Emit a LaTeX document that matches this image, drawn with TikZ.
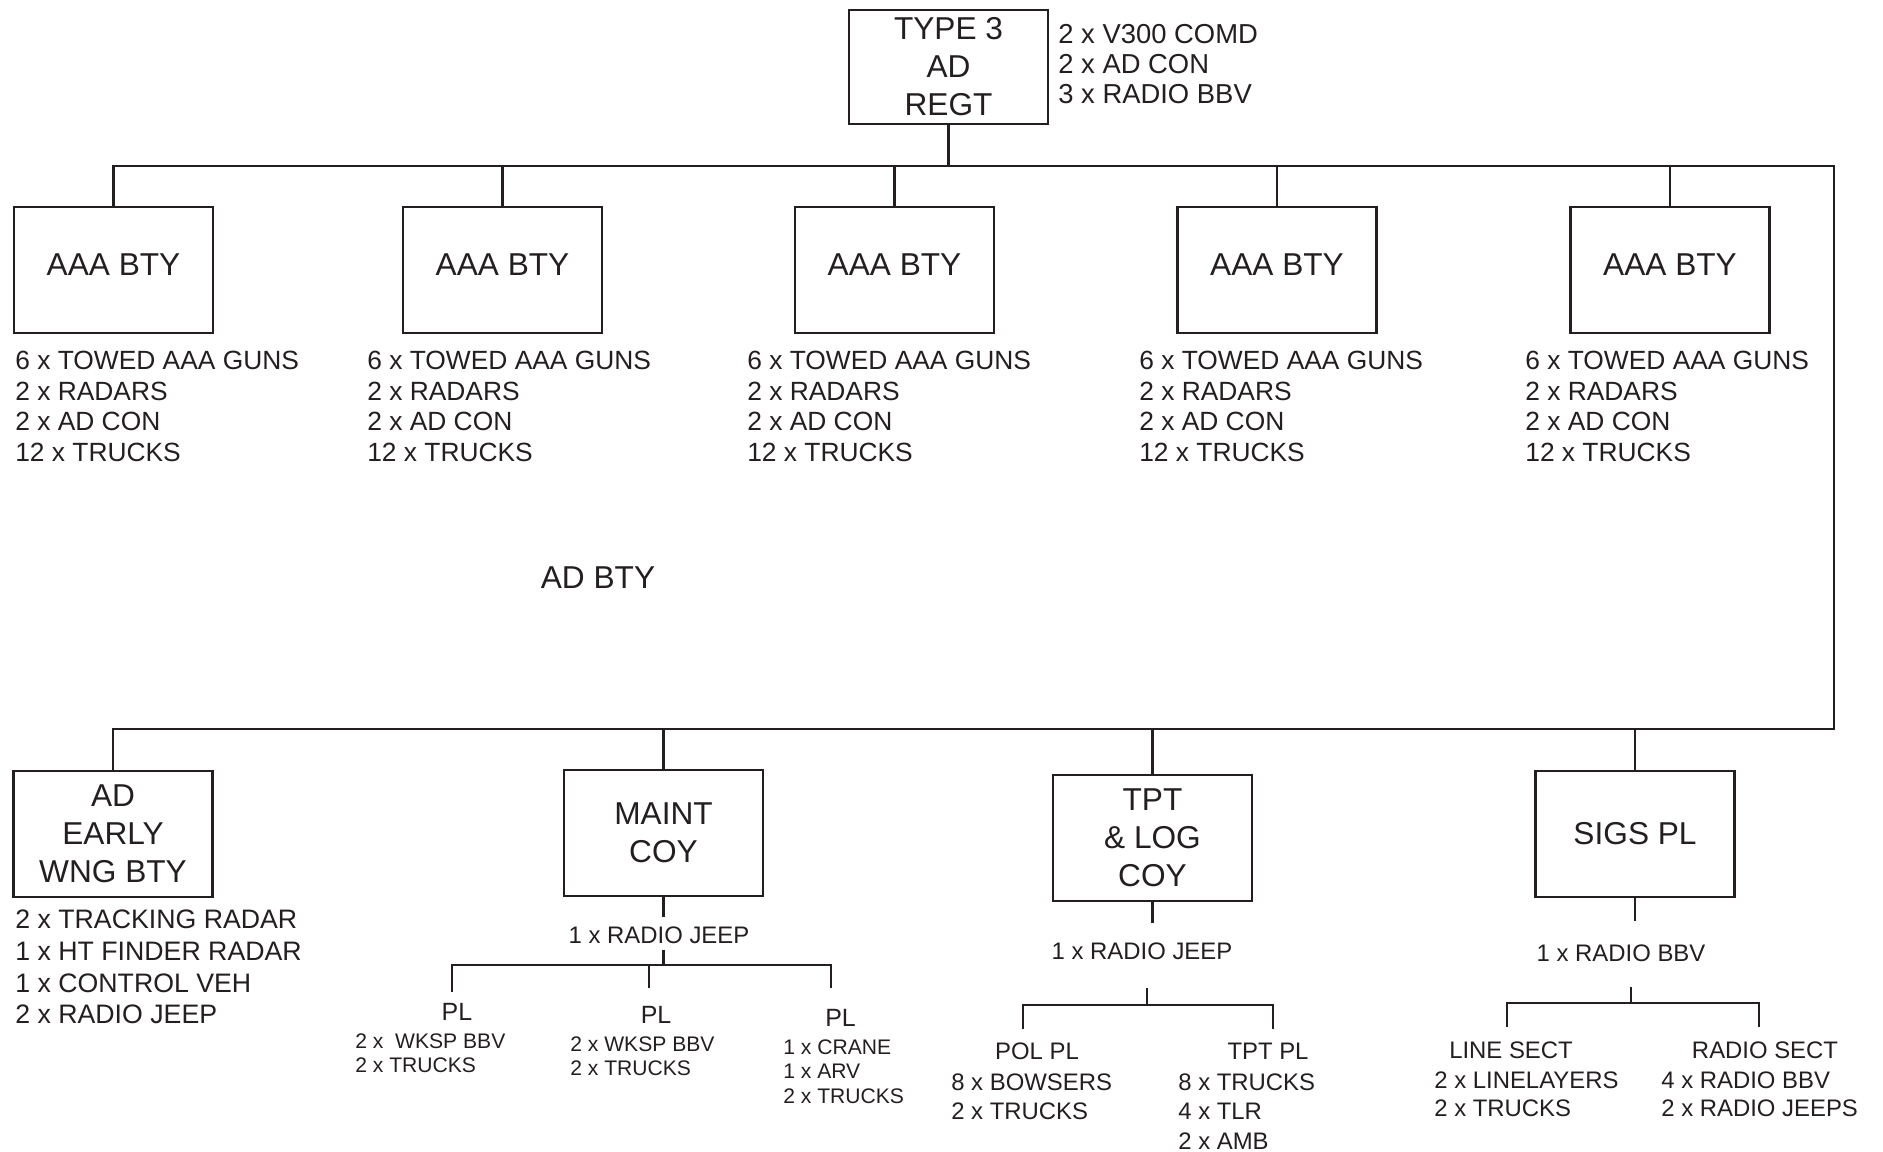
\documentclass[tikz,border=0pt]{standalone}
\usepackage{fontspec}
\setmainfont{Liberation Sans}
\definecolor{ink}{HTML}{231F20}

\begin{document}
\begin{tikzpicture}[color=ink, line width=0.75pt,
  unit/.style={draw, minimum width=1.99cm, minimum height=1.26cm,
    inner sep=0pt, align=center, font=\fontsize{9}{10.8}\selectfont},
  kit/.style={anchor=north west, inner sep=0pt, align=left,
    font=\fontsize{7.5}{8.7}\selectfont},
  small/.style={inner sep=0pt, align=left, font=\fontsize{6.8}{8.4}\selectfont},
  tiny/.style={anchor=north west, inner sep=0pt, align=left,
    font=\fontsize{6}{7}\selectfont}]

\useasboundingbox (0,0) rectangle (18.83,-11.51);

% Regiment HQ
\node[unit, minimum height=1.14cm] (regt) at (9.485,-0.67) {TYPE 3\\AD\\REGT};
\node[kit, font=\fontsize{7.8}{8.6}\selectfont] (regtkit) at (10.57,-0.23)
  {2 x V300 COMD\\2 x AD CON\\3 x RADIO BBV};

% bus corners
\coordinate (tr) at (18.34,-1.66);
\coordinate (br) at (18.34,-7.29);

% AAA batteries
\foreach \i/\x/\t in {1/1.135/0.14, 2/5.025/3.66, 3/8.945/7.46,
                      4/12.77/11.38, 5/16.70/15.24} {
  \node[unit, text depth=1mm] (aaa\i) at (\x,-2.70) {AAA BTY};
  \node[kit] (aaakit\i) at (\t,-3.50)
    {6 x TOWED AAA GUNS\\2 x RADARS\\2 x AD CON\\12 x TRUCKS};
}

\node[inner sep=0pt, font=\fontsize{9}{10.8}\selectfont] (adbty) at (5.98,-5.78) {AD BTY};

% Support units
\node[unit] (ew) at (1.13,-8.34) {AD\\EARLY\\WNG BTY};
\node[kit, font=\fontsize{7.6}{9}\selectfont] (ewkit) at (0.14,-9.09)
  {2 x TRACKING RADAR\\1 x HT FINDER RADAR\\1 x CONTROL VEH\\2 x RADIO JEEP};
\node[unit] (maint) at (6.635,-8.33) {MAINT\\COY};
\node[unit] (tpt) at (11.525,-8.38) {TPT\\\& LOG\\COY};
\node[unit] (sigs) at (16.35,-8.34) {SIGS PL};

% Main buses
\draw (regt) -- (regt |- tr);
\foreach \i in {2,3,4,5} \draw (aaa\i) -- (aaa\i |- tr);
\draw (aaa1.north) |- (tr) -- (br) -| (ew.north);
\foreach \u in {maint,tpt,sigs} \draw (\u) -- (\u |- br);

% MAINT COY platoons
\node[small] (mjeep) at (6.59,-9.35) {1 x RADIO JEEP};
\coordinate (ma) at (6.635,-9.17);
\coordinate (mb) at (6.635,-9.50);
\coordinate (mc) at (6.635,-9.65);
\coordinate (mt1) at (4.52,-9.92);
\coordinate (mt2) at (6.49,-9.88);
\coordinate (mt3) at (8.31,-9.88);
\draw (maint) -- (ma);
\draw (mb) -- (mc);
\draw (mt1) |- (mc) -| (mt3);
\draw (mt2) -- (mt2 |- mc);
\node[small, font=\fontsize{7.1}{8}\selectfont] (mpl1) at (4.57,-10.115) {PL};
\node[small, font=\fontsize{7.1}{8}\selectfont] (mpl2) at (6.56,-10.15) {PL};
\node[small, font=\fontsize{7.1}{8}\selectfont] (mpl3) at (8.405,-10.18) {PL};
\node[tiny] (mkit1) at (3.54,-10.32) {2 x\ \ WKSP BBV\\2 x TRUCKS};
\node[tiny] (mkit2) at (5.69,-10.35) {2 x WKSP BBV\\2 x TRUCKS};
\node[tiny] (mkit3) at (7.82,-10.38) {1 x CRANE\\1 x ARV\\2 x TRUCKS};

% TPT & LOG COY platoons
\node[small] (tjeep) at (11.42,-9.51) {1 x RADIO JEEP};
\coordinate (ta) at (11.525,-9.23);
\coordinate (tb) at (11.47,-9.88);
\coordinate (tc) at (11.47,-10.05);
\coordinate (tt1) at (10.23,-10.29);
\coordinate (tt2) at (12.73,-10.29);
\draw (tpt) -- (ta);
\draw (tb) -- (tc);
\draw (tt1) |- (tc) -| (tt2);
\node[small] (polpl) at (10.37,-10.515) {POL PL};
\node[small] (tptpl) at (12.68,-10.515) {TPT PL};
\node[small, anchor=north west] (polkit) at (9.50,-10.72) {8 x BOWSERS\\2 x TRUCKS};
\node[small, anchor=north west] (tptkit) at (11.77,-10.72) {8 x TRUCKS\\4 x TLR\\2 x AMB};

% SIGS PL sections
\node[small] (sjeep) at (16.21,-9.535) {1 x RADIO BBV};
\coordinate (sa) at (16.35,-9.21);
\coordinate (sb) at (16.31,-9.87);
\coordinate (sc) at (16.31,-10.03);
\coordinate (st1) at (15.07,-10.27);
\coordinate (st2) at (17.59,-10.27);
\draw (sigs) -- (sa);
\draw (sb) -- (sc);
\draw (st1) |- (sc) -| (st2);
\node[small] (linesect) at (15.11,-10.50) {LINE SECT};
\node[small] (radiosect) at (17.65,-10.50) {RADIO SECT};
\node[small, anchor=north west, font=\fontsize{6.8}{8}\selectfont] (linekit) at (14.33,-10.70)
  {2 x LINELAYERS\\2 x TRUCKS};
\node[small, anchor=north west, font=\fontsize{6.8}{8}\selectfont] (radiokit) at (16.60,-10.70)
  {4 x RADIO BBV\\2 x RADIO JEEPS};
\end{tikzpicture}
\end{document}
